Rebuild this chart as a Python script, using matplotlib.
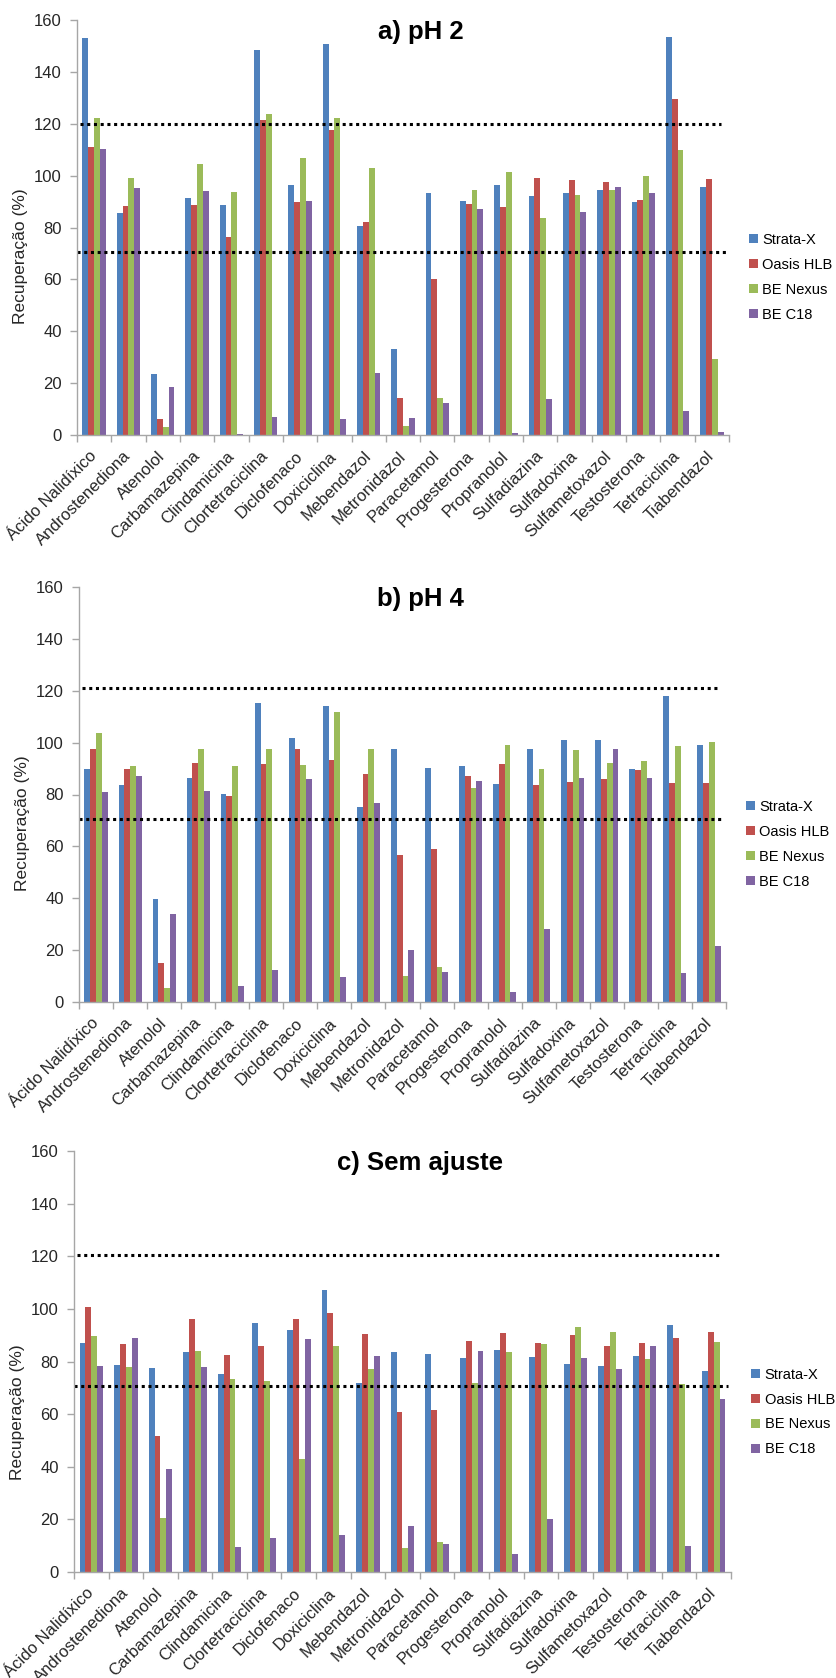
import matplotlib
matplotlib.use("Agg")
import matplotlib.pyplot as plt
import matplotlib.transforms as mtransforms
import numpy as np

plt.rcParams['font.family'] = ['Liberation Sans', 'DejaVu Sans']

compostos = ['Ácido Nalidíxico', 'Androstenediona', 'Atenolol', 'Carbamazepina',
             'Clindamicina', 'Clortetraciclina', 'Diclofenaco', 'Doxiciclina',
             'Mebendazol', 'Metronidazol', 'Paracetamol', 'Progesterona',
             'Propranolol', 'Sulfadiazina', 'Sulfadoxina', 'Sulfametoxazol',
             'Testosterona', 'Tetraciclina', 'Tiabendazol']
cartuchos = ['Strata-X', 'Oasis HLB', 'BE Nexus', 'BE C18']
cores = ['#4F81BD', '#C0504D', '#9BBB59', '#8064A2']

# recuperação (%) em pH 2
ph2_strata = [152.9, 85.5, 23.5, 91.2, 88.5, 148.4, 96.4, 150.8, 80.6, 33.3,
              93.2, 90.1, 96.4, 92.0, 93.2, 94.6, 89.7, 153.3, 95.8]
ph2_oasis = [110.9, 88.2, 6.0, 88.5, 76.4, 121.5, 90.0, 117.4, 82.0, 14.3,
             60.1, 89.0, 87.9, 99.0, 98.2, 97.6, 90.6, 129.4, 98.7]
ph2_nexus = [122.1, 99.0, 3.0, 104.5, 93.5, 123.9, 106.7, 122.4, 103.0, 3.3,
             14.2, 94.4, 101.4, 83.6, 92.6, 94.4, 99.8, 110.0, 29.2]
ph2_c18 = [110.4, 95.1, 18.4, 94.0, 0.5, 7.0, 90.1, 6.3, 23.8, 6.5,
           12.2, 87.0, 0.8, 14.0, 85.9, 95.5, 93.3, 9.2, 1.0]

# recuperação (%) em pH 4
ph4_strata = [89.7, 83.5, 39.6, 86.5, 80.3, 115.4, 101.9, 114.0, 75.2, 97.7,
              90.3, 90.9, 84.2, 97.7, 100.9, 101.1, 90.0, 117.9, 99.2]
ph4_oasis = [97.4, 90.0, 14.9, 92.0, 79.6, 91.8, 97.4, 93.2, 88.0, 56.7,
             58.9, 87.1, 91.8, 83.5, 84.8, 85.9, 89.3, 84.6, 84.6]
ph4_nexus = [103.8, 91.1, 5.3, 97.4, 91.0, 97.7, 91.5, 111.7, 97.4, 10.0,
             13.5, 82.5, 99.2, 90.0, 97.2, 92.3, 92.9, 98.6, 100.1]
ph4_c18 = [81.0, 87.0, 34.1, 81.5, 6.3, 12.2, 86.1, 9.8, 76.7, 19.9,
           11.7, 85.1, 3.9, 28.3, 86.5, 97.4, 86.4, 11.3, 21.6]

# recuperação (%) sem ajuste de pH
sa_strata = [87.2, 78.7, 77.4, 83.6, 75.3, 94.5, 91.9, 107.1, 71.8, 83.6,
             82.9, 81.2, 84.4, 81.7, 78.9, 78.2, 82.1, 93.8, 76.3]
sa_oasis = [100.8, 86.7, 51.5, 96.1, 82.6, 86.0, 96.3, 98.5, 90.6, 60.9,
            61.4, 87.7, 90.9, 87.2, 90.1, 86.0, 87.2, 88.8, 91.1]
sa_nexus = [89.6, 77.8, 20.6, 83.9, 73.4, 72.6, 42.9, 85.8, 77.0, 9.1,
            11.5, 71.8, 83.6, 86.7, 93.3, 91.1, 80.8, 71.3, 87.4]
sa_c18 = [78.2, 88.8, 39.1, 77.9, 9.4, 12.8, 88.6, 14.0, 82.2, 17.4,
          10.5, 84.0, 6.9, 20.3, 81.2, 77.0, 86.0, 9.8, 65.9]

titulos = ['a) pH 2', 'b) pH 4', 'c) Sem ajuste']
limites = [(120.0, 70.5), (121.0, 70.7), (120.5, 70.7)]

paineis = [
    [ph2_strata, ph2_oasis, ph2_nexus, ph2_c18],
    [ph4_strata, ph4_oasis, ph4_nexus, ph4_c18],
    [sa_strata, sa_oasis, sa_nexus, sa_c18],
]

W, H = 837, 1678
fig = plt.figure(figsize=(W / 100, H / 100), dpi=100)

# caixas dos eixos em pixels: esquerda, topo (y=160), direita, base (y=0)
caixas = [(77, 20, 729, 435), (79, 587, 726, 1002), (74, 1151, 731, 1572)]
# altura do título do eixo y em cada painel (fração do eixo)
pos_ylabel = [0.43, 0.43, 0.38]

cinza = '#A6A6A6'
x = np.arange(len(compostos))
largura = 0.17

# desloca os rótulos do eixo x um pouco para a direita
desloc = mtransforms.ScaledTranslation(7 / 100, 0, fig.dpi_scale_trans)

for caixa, series, titulo, (lim_sup, lim_inf), yl in zip(caixas, paineis, titulos,
                                                         limites, pos_ylabel):
    x0, y0, x1, y1 = caixa
    ax = fig.add_axes([x0 / W, 1 - y1 / H, (x1 - x0) / W, (y1 - y0) / H])

    for i, (serie, cor, nome) in enumerate(zip(series, cores, cartuchos)):
        ax.bar(x + (i - 1.5) * largura, serie, largura, color=cor, label=nome,
               linewidth=0)

    ax.axhline(lim_sup, xmin=0.005, xmax=0.987, color='black', linestyle=(0, (1, 1.2)),
               linewidth=2.2, clip_on=False)
    ax.axhline(lim_inf, xmin=0.0, xmax=0.995, color='black', linestyle=(0, (1, 1.2)),
               linewidth=2.2, clip_on=False)

    ax.set_xlim(-0.5, len(compostos) - 0.5)
    ax.set_ylim(0, 160)
    ax.set_yticks(np.arange(0, 161, 20))
    ax.set_xticks(x)
    ax.set_xticklabels(compostos, rotation=45, ha='right', va='center',
                       rotation_mode='anchor', fontsize=12, color='#262626')
    for rot in ax.get_xticklabels():
        rot.set_transform(rot.get_transform() + desloc)
    ax.set_xticks(np.arange(-0.5, len(compostos), 1), minor=True)
    ax.tick_params(axis='x', which='major', length=0, pad=13.5)
    ax.tick_params(axis='x', which='minor', length=5, color=cinza, width=1)
    ax.tick_params(axis='y', length=5, color=cinza, width=1, labelsize=12,
                   labelcolor='#262626', pad=6)

    for lado in ['top', 'right']:
        ax.spines[lado].set_visible(False)
    for lado in ['left', 'bottom']:
        ax.spines[lado].set_color(cinza)
        ax.spines[lado].set_linewidth(1)

    ax.set_ylabel('Recuperação (%)', fontsize=12.5, color='#262626')
    ax.yaxis.set_label_coords(-0.075, yl)

    ax.text(0.527, 0.972, titulo, transform=ax.transAxes, ha='center', va='center',
            fontsize=18.5, fontweight='bold', color='black')

    ax.legend(loc='center left', bbox_to_anchor=(1.02, 0.38), frameon=False,
              fontsize=10.5, handlelength=0.6, handleheight=0.6,
              handletextpad=0.3, labelspacing=0.75, borderpad=0)

fig.savefig('out.png', dpi=100, facecolor='white')
